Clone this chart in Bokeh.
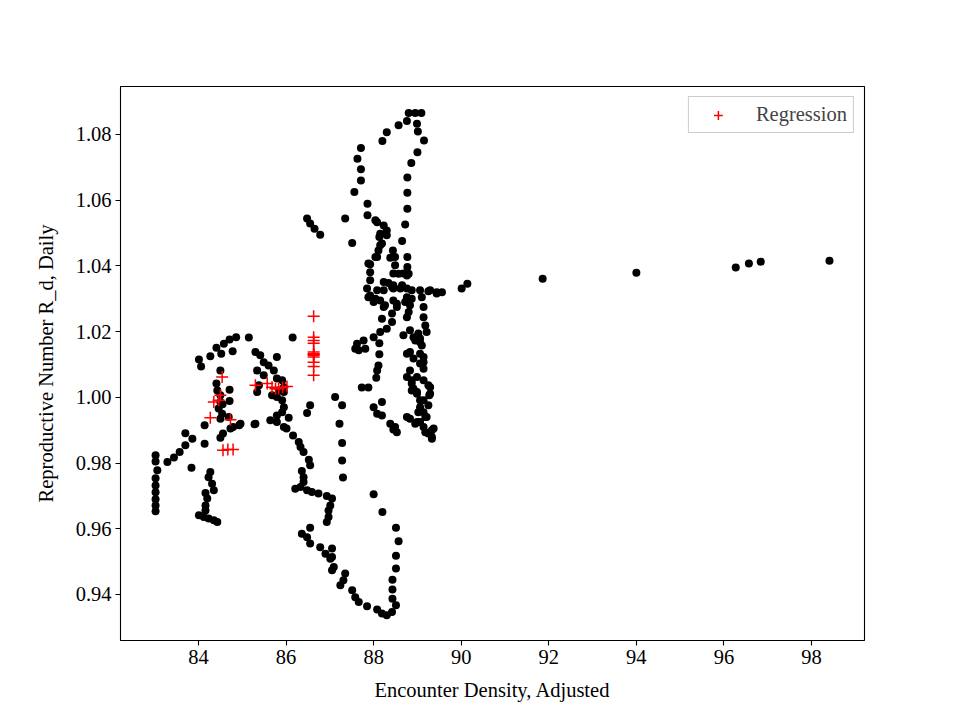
from bokeh.plotting import figure
from bokeh.models import Range1d, FixedTicker, Legend, LegendItem, NumeralTickFormatter, ColumnDataSource
from bokeh.embed import file_html
from bokeh.resources import INLINE

# ---- data: observed (black) ----
density_obs = [
    # left column & arc
    83.02, 83.02, 83.06, 83.02, 83.02, 83.02, 83.02, 83.02, 83.02,
    83.29, 83.44, 83.57, 83.70, 83.70, 83.86, 83.84, 84.14, 84.14,
    # lower-left cluster
    84.27, 84.23, 84.31, 84.35, 84.16, 84.20, 84.16, 84.16, 84.01, 84.12, 84.23, 84.35, 84.43,
    # left column
    84.56, 84.50, 84.79, 84.93, 84.50, 84.41, 84.71, 84.50, 84.71, 84.50, 84.46, 84.54, 84.50,
    84.69, 84.73, 84.43, 84.55,
    # top arc
    84.01, 84.06, 84.27, 84.41, 84.52, 84.58, 84.71, 84.78, 84.86, 85.15, 85.28,
    # middle loop
    86.15, 85.30, 85.41, 85.49, 85.60, 85.79, 85.34, 85.49, 85.72, 85.79, 85.91, 85.95, 85.95,
    85.34, 85.38, 85.68, 85.79, 85.91, 85.95, 85.91, 85.79, 85.64, 85.79, 85.95, 86.06, 85.30,
    84.96, 85.85,
    # lower middle
    86.01, 86.16, 86.29, 86.33, 86.40, 86.52, 86.55, 86.36, 86.40, 86.40, 86.21, 86.33, 86.48,
    86.59, 86.74, 86.93, 87.05, 87.01, 86.97, 86.97, 86.93, 86.55, 86.36, 86.48, 86.55, 86.78,
    86.90, 87.01, 87.09, 87.05, 87.05, 87.05, 87.35, 87.31, 87.24, 87.51, 87.58, 87.66, 87.85,
    88.08, 88.19, 88.30, 88.42, 88.51, 88.43, 88.43, 88.43, 88.51, 88.51, 88.57, 88.51, 88.20,
    88.00, 87.30, 87.28, 87.28, 87.22, 87.28, 87.12, 86.55, 86.48,
    # below right column
    87.73, 87.88, 88.19, 88.00, 88.08, 88.19, 88.38, 88.49, 88.53, 88.45, 88.99, 89.14, 89.25,
    89.21, 88.83, 88.99, 89.14, 89.25, 89.33, 89.37, 89.33, 89.18, 89.06, 88.76, 89.18, 89.14,
    89.06, 89.33, 89.27, 89.29, 89.02, 88.95,
    # upper loop
    88.80, 88.95, 89.09, 88.76, 88.99, 89.01, 88.57, 88.30, 88.20, 89.15, 89.00, 87.71, 87.63,
    87.71, 87.71, 88.86, 88.77, 88.77, 87.56, 87.86, 88.77, 87.35, 87.86, 88.08, 88.23, 88.30,
    88.72, 88.13, 88.30, 87.51, 88.65, 88.19, 88.11, 88.44, 88.08, 88.38, 88.49, 88.77, 87.92,
    88.49, 88.77, 87.92, 88.57, 88.76, 87.92, 88.23, 88.34, 88.45, 88.65, 87.85, 88.76, 88.87,
    89.06, 89.25, 89.44, 89.56, 90.01, 90.14, 88.08, 88.23, 88.45, 88.61, 86.48, 86.55, 86.65,
    86.78, 88.04, 88.15, 88.15, 88.04, 87.88, 88.80, 88.45, 88.68, 89.29, 89.44,
    # right column
    87.92, 88.04, 88.15, 88.23, 88.42, 88.45, 88.53, 88.42, 88.19, 88.42, 88.30, 88.15, 88.00,
    88.13, 87.77, 87.62, 87.58, 87.66, 87.81, 88.13, 88.11, 88.08, 88.06, 87.88, 88.00, 88.26,
    88.76, 88.87, 88.83, 88.80, 88.76, 89.10, 89.14, 89.14, 89.18, 89.21, 88.68, 88.83, 88.91,
    89.02, 89.06, 88.95, 89.10, 88.83, 89.06, 88.76, 88.91, 89.14, 89.14, 89.06, 89.14, 88.83,
    88.76, 88.87, 88.99, 89.14, 88.87, 88.91, 88.87, 88.99, 89.25, 89.29, 89.06, 88.53, 88.72,
    89.06,
    # right tail
    91.86, 94.00, 96.27, 96.57, 96.84, 98.41,
]
rd_obs = [
    0.9824, 0.9805, 0.9778, 0.9754, 0.9732, 0.9711, 0.9690, 0.9671, 0.9653,
    0.9803, 0.9817, 0.9834, 0.9854, 0.9891, 0.9874, 0.9786, 0.9859, 0.9915,
    0.9773, 0.9757, 0.9737, 0.9717, 0.9709, 0.9692, 0.9671, 0.9656, 0.9641, 0.9636, 0.9631, 0.9626, 0.9621,
    0.9890, 0.9877, 0.9910, 0.9915, 1.0082, 1.0042, 1.0023, 1.0006, 0.9989, 0.9986, 0.9966, 0.9950, 0.9935,
    0.9940, 0.9905, 1.0021, 0.9979,
    1.0115, 1.0094, 1.0125, 1.0151, 1.0133, 1.0163, 1.0176, 1.0140, 1.0183, 1.0182, 0.9918,
    1.0182, 1.0138, 1.0128, 1.0107, 1.0097, 1.0123, 1.0082, 1.0067, 1.0082, 1.0057, 1.0052, 1.0031, 1.0016,
    1.0016, 1.0037, 1.0006, 1.0001, 0.9991, 0.9970, 0.9955, 0.9945, 0.9930, 0.9925, 0.9910, 0.9938, 0.9920,
    0.9920, 1.0021,
    0.9905, 0.9884, 0.9864, 0.9849, 0.9834, 0.9810, 0.9793, 0.9776, 0.9757, 0.9742, 0.9722, 0.9727, 0.9717,
    0.9712, 0.9707, 0.9700, 0.9692, 0.9671, 0.9656, 0.9636, 0.9621, 0.9603, 0.9585, 0.9574, 0.9555, 0.9544,
    0.9524, 0.9509, 0.9484, 0.9474, 0.9540, 0.9514, 0.9464, 0.9443, 0.9428, 0.9413, 0.9392, 0.9377, 0.9364,
    0.9354, 0.9342, 0.9337, 0.9347, 0.9367, 0.9387, 0.9415, 0.9445, 0.9479, 0.9518, 0.9562, 0.9603, 0.9651,
    0.9705, 0.9756, 0.9808, 0.9861, 0.9920, 0.9976, 1.0001, 0.9976, 0.9952,
    1.0030, 1.0030, 0.9986, 0.9970, 0.9950, 0.9945, 0.9920, 0.9910, 0.9894, 0.9902, 1.0011, 0.9991, 0.9976,
    0.9940, 0.9935, 0.9925, 0.9910, 0.9890, 0.9874, 0.9905, 0.9900, 0.9894, 0.9925, 0.9940, 0.9940, 0.9955,
    0.9970, 0.9879, 1.0006, 1.0031, 0.9955, 0.9920,
    1.0865, 1.0865, 1.0865, 1.0841, 1.0833, 1.0809, 1.0828, 1.0807, 1.0780, 1.0782, 1.0746, 1.0759, 1.0726,
    1.0694, 1.0660, 1.0713, 1.0669, 1.0623, 1.0625, 1.0589, 1.0574, 1.0544, 1.0554, 1.0533, 1.0523, 1.0508,
    1.0526, 1.0488, 1.0493, 1.0470, 1.0476, 1.0468, 1.0447, 1.0447, 1.0427, 1.0425, 1.0427, 1.0427, 1.0405,
    1.0402, 1.0397, 1.0381, 1.0376, 1.0371, 1.0356, 1.0351, 1.0348, 1.0341, 1.0341, 1.0331, 1.0331, 1.0326,
    1.0326, 1.0323, 1.0320, 1.0320, 1.0331, 1.0346, 1.0326, 1.0326, 1.0331, 1.0331, 1.0544, 1.0529, 1.0513,
    1.0495, 1.0539, 1.0498, 1.0463, 1.0427, 1.0407, 1.0376, 1.0377, 1.0377, 1.0326, 1.0316,
    1.0310, 1.0300, 1.0295, 1.0275, 1.0336, 1.0295, 1.0275, 1.0255, 1.0239, 1.0229, 1.0209, 1.0199, 1.0183,
    1.0165, 1.0173, 1.0163, 1.0148, 1.0143, 1.0148, 1.0131, 1.0097, 1.0082, 1.0060, 1.0305, 1.0290, 1.0280,
    1.0305, 1.0300, 1.0280, 1.0260, 1.0244, 1.0305, 1.0275, 1.0244, 1.0219, 1.0199, 1.0189, 1.0204, 1.0183,
    1.0194, 1.0168, 1.0173, 1.0158, 1.0138, 1.0133, 1.0133, 1.0118, 1.0123, 1.0107, 1.0103, 1.0087, 1.0082,
    1.0062, 1.0052, 1.0062, 1.0052, 1.0042, 1.0026, 1.0021, 1.0016, 1.0037, 1.0011, 0.9991, 1.0285, 1.0290,
    1.0179,
    1.0361, 1.0379, 1.0395, 1.0407, 1.0413, 1.0416,
]

# ---- data: regression (red crosses) ----
density_reg = [86.63, 86.63, 86.63, 86.63, 86.63, 86.63, 86.63, 86.63, 86.63, 86.63, 86.63, 86.63,
               85.30, 85.57, 85.68, 85.76, 85.83, 85.92, 86.02,
               84.54, 84.50, 84.35, 84.46, 84.27, 84.73, 84.56, 84.67, 84.79]
rd_reg = [1.0247, 1.0183, 1.0173, 1.0165, 1.0138, 1.0133, 1.0131, 1.0128, 1.0123, 1.0107, 1.0094, 1.0067,
          1.0037, 1.0042, 1.0031, 1.0026, 1.0026, 1.0030, 1.0033,
          1.0062, 1.0006, 0.9986, 0.9991, 0.9938, 0.9932, 0.9839, 0.9841, 0.9841]

x_ticks = [84, 86, 88, 90, 92, 94, 96, 98]
y_ticks = [0.94, 0.96, 0.98, 1.00, 1.02, 1.04, 1.06, 1.08]

FONT = "Liberation Serif"
FS = "20.5px"

p = figure(width=952, height=712, output_backend="svg", toolbar_location=None,
           x_range=Range1d(82.219, 99.21), y_range=Range1d(0.926, 1.0946),
           min_border_left=120, min_border_right=88, min_border_top=86, min_border_bottom=72)
p.grid.visible = False
p.outline_line_color = "black"
p.outline_line_width = 1.1
p.background_fill_color = "white"
p.border_fill_color = "white"

p.xaxis.ticker = FixedTicker(ticks=x_ticks)
p.yaxis.ticker = FixedTicker(ticks=y_ticks)
p.yaxis.formatter = NumeralTickFormatter(format="0.00")
p.xaxis.axis_label = "Encounter Density, Adjusted"
p.yaxis.axis_label = "Reproductive Number R_d, Daily"
for ax in (p.xaxis, p.yaxis):
    ax.major_label_text_font = FONT
    ax.major_label_text_font_size = FS
    ax.major_label_text_color = "black"
    ax.axis_label_text_font = FONT
    ax.axis_label_text_font_size = FS
    ax.axis_label_text_font_style = "normal"
    ax.axis_label_text_color = "black"
    ax.minor_tick_line_color = None
    ax.major_tick_out = 5
    ax.major_tick_in = 0
    ax.major_tick_line_color = "black"
    ax.major_tick_line_width = 1.1
    ax.axis_line_color = None
    ax.major_label_standoff = 4
p.xaxis.axis_label_standoff = 12
p.yaxis.axis_label_standoff = 16

obs = ColumnDataSource(dict(x=density_obs, y=rd_obs))
reg = ColumnDataSource(dict(x=density_reg, y=rd_reg))
p.scatter("x", "y", source=obs, marker="circle", size=8, fill_color="black", line_color=None)
r_reg = p.scatter("x", "y", source=reg, marker="cross", size=12, line_color="red", line_width=1.5)

legend = Legend(items=[LegendItem(label="Regression", renderers=[r_reg])],
                location="top_right", margin=10, padding=6, spacing=0,
                glyph_width=46, glyph_height=22, label_standoff=15, label_height=22,
                label_text_font=FONT, label_text_font_size=FS,
                border_line_color="#cccccc", border_line_width=1.2, border_line_alpha=1.0,
                background_fill_alpha=0.8)
p.add_layout(legend)

open("out.html", "w").write(file_html(p, INLINE))
